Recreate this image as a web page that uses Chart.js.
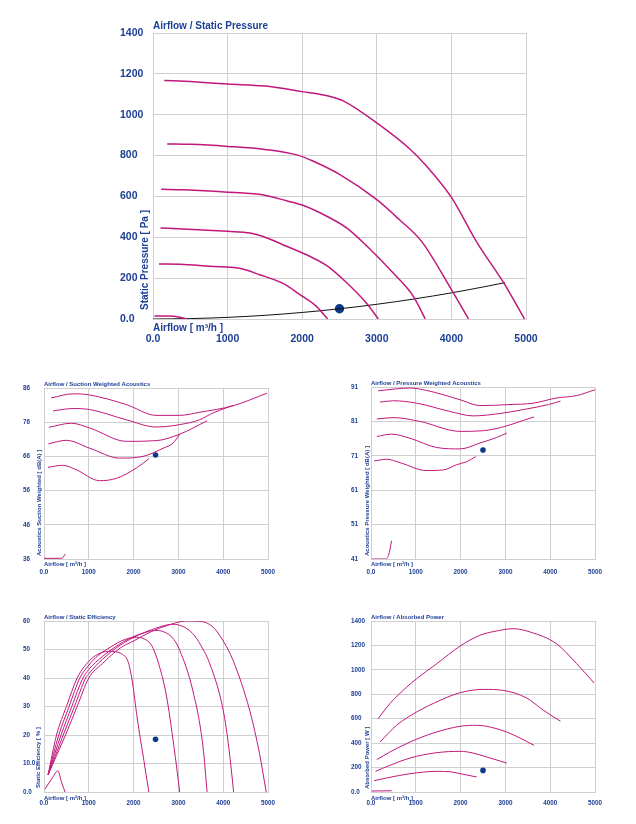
<!DOCTYPE html>
<html>
<head>
<meta charset="utf-8">
<title>Fan performance curves</title>
<script src="https://cdn.jsdelivr.net/npm/chart.js@4.4.0/dist/chart.umd.min.js"></script>
<style>
  body { margin: 0; background: #fff; }
  #page { position: relative; width: 636px; height: 824px; overflow: hidden; }
  canvas { position: absolute; }
</style>
</head>
<body>
<div id="page">
  <canvas id="pressureChart" width="636" height="360" style="left:0;top:0"></canvas>
  <canvas id="suctionChart" width="318" height="210" style="left:0;top:370px"></canvas>
  <canvas id="pressAcChart" width="318" height="210" style="left:318px;top:370px"></canvas>
  <canvas id="effChart" width="318" height="224" style="left:0;top:600px"></canvas>
  <canvas id="powerChart" width="318" height="224" style="left:318px;top:600px"></canvas>
</div>
<script>
// x axis ticks shared by every chart (airflow m³/h)
const airflowTicks = [0, 1000, 2000, 3000, 4000, 5000];

// Airflow / Static Pressure  [airflow, Pa]
const staticP1 = [[150,1168],[500,1162],[1000,1150],[1500,1140],[2000,1113],[2350,1092],[2550,1068],[3000,960],[3450,830],[3650,755],[4000,595],[4350,370],[4700,178],[4980,0]];
const staticP2 = [[190,857],[500,855],[1000,845],[1500,830],[1950,801],[2150,772],[2500,708],[3000,584],[3300,487],[3600,380],[4000,144],[4230,0]];
const staticP3 = [[110,635],[400,633],[950,622],[1450,609],[1800,578],[2000,558],[2330,503],[2600,445],[2870,356],[3220,225],[3490,111],[3650,0]];
const staticP4 = [[100,445],[400,441],[1000,429],[1300,421],[1520,398],[1790,356],[2100,307],[2330,261],[2600,176],[2860,78],[3020,0]];
const staticP5 = [[80,269],[360,268],[760,258],[1160,248],[1430,217],[1750,173],[1970,119],[2190,62],[2340,0]];
const staticP6 = [[20,15],[220,15],[360,9],[460,0]];
const systemCurve = [[0,0],[500,2],[1000,8],[1500,18],[2000,32],[2500,50],[3000,72],[3500,98],[4000,128],[4500,162],[4720,178]];
const staticPoint = [2500, 50];
const staticTicks = [0, 200, 400, 600, 800, 1000, 1200, 1400];

// Airflow / Suction Weighted Acoustics  [airflow, dB(A)]
const suction1 = [[160,83.1],[650,84.3],[1000,84.0],[1850,81.1],[2500,78.0],[3030,78.0],[3470,78.9],[4220,80.8],[4980,84.5]];
const suction2 = [[200,79.3],[650,80.0],[1020,79.7],[1840,76.7],[2500,74.6],[3030,75.3],[3470,76.7],[3770,78.7],[4220,80.9]];
const suction3 = [[110,74.5],[610,75.7],[1020,74.3],[1840,70.4],[2500,70.6],[3030,72.5],[3640,76.4]];
const suction4 = [[100,69.7],[500,70.7],[1020,68.4],[1690,65.5],[2210,66.0],[2660,68.4],[2880,69.9],[3030,72.5]];
const suction5 = [[90,62.8],[420,63.4],[720,62.1],[1240,58.9],[1620,59.6],[2060,62.6],[2340,65.3]];
const suction6 = [[0,36.2],[390,36.2],[480,37.5]];
const suctionPoint = [2490, 66.4];
const suctionTicks = [36, 46, 56, 66, 76, 86];

// Airflow / Pressure Weighted Acoustics  [airflow, dB(A)]
const pressAc1 = [[160,89.9],[870,90.7],[1240,90.0],[1990,87.3],[2430,85.6],[3100,85.9],[3620,86.3],[4140,87.8],[4590,88.5],[5000,90.2]];
const pressAc2 = [[200,86.6],[500,87.0],[1020,86.3],[1760,83.9],[2280,82.6],[2880,83.3],[3470,84.6],[3960,85.9],[4230,86.9]];
const pressAc3 = [[130,81.7],[500,82.1],[1090,81.0],[1990,78.1],[2510,78.3],[3030,79.7],[3400,81.3],[3640,82.3]];
const pressAc4 = [[130,76.6],[460,77.3],[870,76.1],[1470,73.4],[1990,73.0],[2430,74.7],[2800,76.3],[3030,77.6]];
const pressAc5 = [[70,69.5],[350,70.0],[650,69.0],[1240,66.7],[1620,66.9],[1910,68.4],[2140,69.3],[2340,70.8]];
const pressAc6 = [[15,41],[310,41],[390,42],[460,46.3]];
const pressAcPoint = [2500, 72.7];
const pressAcTicks = [41, 51, 61, 71, 81, 91];

// Airflow / Static Efficiency  [airflow, %]
const eff1 = [[90,6],[280,20],[500,30],[740,40],[900,44],[1100,47.3],[1300,49],[1450,49.4],[1600,49.2],[1750,48.3],[1870,46],[1970,39],[2080,26],[2230,11],[2340,0]];
const eff2 = [[90,6],[330,20],[560,30],[800,40],[1000,44.5],[1200,47.8],[1500,51],[1800,53.5],[2060,54.3],[2250,53.6],[2400,51.5],[2550,45.5],[2730,34],[2900,16],[3030,0]];
const eff3 = [[90,6],[380,20],[620,30],[870,40],[1000,43],[1300,47.5],[1600,51],[1900,53.8],[2200,55.7],[2500,56.7],[2730,55.8],[2900,53.5],[3030,49.7],[3320,35.7],[3550,15.8],[3640,0]];
const eff4 = [[90,6],[430,20],[680,30],[930,40],[1000,41.5],[1300,46.5],[1700,51.5],[2100,55],[2500,57.5],[2850,58.8],[3030,58.5],[3320,55.6],[3500,51.5],[3700,45],[4000,28.7],[4130,15],[4233,0]];
const eff5 = [[90,6],[480,20],[740,30],[1000,40],[1300,45],[1700,50.5],[2000,53],[2400,56.3],[2800,58.7],[3180,60],[3470,59.9],[3770,57.9],[4000,53],[4220,46.2],[4590,28.7],[4810,13.5],[4960,0]];
const eff6 = [[20,1],[170,4.5],[310,7.4],[390,3.5],[470,0]];
const effPoint = [2490, 18.5];
const effTicks = [0, 10, 20, 30, 40, 50, 60];

// Airflow / Absorbed Power  [airflow, W]
const power1 = [[160,600],[420,723],[800,860],[1020,928],[1470,1051],[1990,1195],[2430,1283],[2800,1318],[3180,1337],[3550,1310],[4140,1214],[4590,1051],[4980,892]];
const power2 = [[200,409],[570,546],[1020,655],[1540,750],[1990,813],[2510,840],[2950,832],[3470,770],[3850,669],[4230,579]];
const power3 = [[130,265],[420,327],[870,409],[1390,483],[1990,538],[2360,546],[2660,532],[3030,491],[3400,428],[3640,382]];
const power4 = [[100,169],[420,218],[870,278],[1470,322],[1990,333],[2280,319],[2580,287],[3030,237]];
const power5 = [[70,93],[350,115],[870,150],[1470,169],[1760,166],[1990,150],[2360,123]];
const power6 = [[15,8],[460,10]];
const powerPoint = [2500, 177];
const powerTicks = [0, 200, 400, 600, 800, 1000, 1200, 1400];

const CURVE = '#c0187c';
const DOT = '#0b3a8c';
const TEXT = '#1c3f94';
const GRID = '#cfcfcf';
const FONT = '"Liberation Sans", Arial, sans-serif';

// titles / axis names are drawn next to the plot area like the original
const textPlugin = {
  id: 'chartText',
  afterDraw(chart, args, o) {
    const ctx = chart.ctx;
    const a = chart.chartArea;
    ctx.save();
    ctx.fillStyle = TEXT;
    ctx.font = 'bold ' + o.size + 'px ' + FONT;
    ctx.textAlign = 'left';
    ctx.textBaseline = 'alphabetic';
    ctx.fillText(o.title, a.left, a.top - o.titleGap);
    ctx.textBaseline = 'middle';
    ctx.fillText('Airflow [ m³/h ]', a.left, a.bottom + o.xGap);
    ctx.translate(a.left - o.yGap, a.bottom - o.yStart);
    ctx.rotate(-Math.PI / 2);
    ctx.fillText(o.yTitle, 0, 0);
    ctx.restore();
  }
};

function toXY(curve) {
  return curve.map(p => ({ x: p[0], y: p[1] }));
}

function fmtTick(v) {
  if (v === 0) return '0.0';
  return String(v);
}

function makeChart(id, o) {
  const datasets = o.curves.map(c => ({
    data: toXY(c),
    showLine: true,
    borderColor: CURVE,
    borderWidth: o.lineWidth,
    pointRadius: 0,
    cubicInterpolationMode: 'monotone',
    fill: false
  }));
  if (o.system) {
    datasets.push({
      data: toXY(o.system),
      showLine: true,
      borderColor: '#111',
      borderWidth: 1,
      pointRadius: 0,
      cubicInterpolationMode: 'monotone'
    });
  }
  datasets.push({
    data: toXY([o.point]),
    showLine: false,
    pointRadius: o.dot,
    pointBackgroundColor: DOT,
    pointBorderColor: DOT,
    pointBorderWidth: 0
  });

  const tickFont = { family: FONT, size: o.tickSize, weight: 'bold' };

  return new Chart(document.getElementById(id), {
    type: 'scatter',
    data: { datasets: datasets },
    options: {
      responsive: false,
      animation: false,
      layout: { padding: { left: o.padLeft, right: o.padRight, top: o.padTop, bottom: 0 } },
      plugins: {
        legend: { display: false },
        tooltip: { enabled: false },
        chartText: o.text
      },
      scales: {
        x: {
          type: 'linear',
          min: airflowTicks[0],
          max: airflowTicks[airflowTicks.length - 1],
          afterBuildTicks: s => { s.ticks = airflowTicks.map(v => ({ value: v })); },
          afterFit: s => { s.height = o.xHeight; },
          ticks: { padding: o.xTickPad, font: tickFont, color: TEXT, maxRotation: 0, autoSkip: false, callback: fmtTick },
          grid: { color: GRID, drawTicks: false },
          border: { color: GRID }
        },
        y: {
          type: 'linear',
          min: o.yTicks[0],
          max: o.yTicks[o.yTicks.length - 1],
          afterBuildTicks: s => { s.ticks = o.yTicks.map(v => ({ value: v })); },
          afterFit: s => { s.width = o.yWidth; },
          ticks: { crossAlign: 'far', font: tickFont, color: TEXT, autoSkip: false, callback: o.yFmt || fmtTick },
          grid: { color: GRID, drawTicks: false },
          border: { color: GRID }
        }
      }
    },
    plugins: [textPlugin]
  });
}

// big chart on top
makeChart('pressureChart', {
  curves: [staticP1, staticP2, staticP3, staticP4, staticP5, staticP6],
  system: systemCurve,
  point: staticPoint,
  yTicks: staticTicks,
  lineWidth: 1.5, dot: 4.7, tickSize: 10.5,
  padLeft: 120, yWidth: 33, padRight: 110, padTop: 33, xHeight: 41, xTickPad: 14,
  text: { title: 'Airflow / Static Pressure', yTitle: 'Static Pressure [ Pa ]', size: 10, titleGap: 4, xGap: 9, yGap: 8, yStart: 9 }
});

// the four small ones
const small = { lineWidth: 1, dot: 2.8, tickSize: 6.3 };

makeChart('suctionChart', Object.assign({}, small, {
  curves: [suction1, suction2, suction3, suction4, suction5, suction6],
  point: suctionPoint,
  yTicks: suctionTicks,
  padLeft: 23, yWidth: 21, padRight: 50, padTop: 18, xHeight: 21, xTickPad: 9,
  text: { title: 'Airflow / Suction Weighted Acoustics', yTitle: 'Acoustics Suction Weighted [ dB(A) ]', size: 6, titleGap: 2, xGap: 5, yGap: 4.5, yStart: 3 }
}));

makeChart('pressAcChart', Object.assign({}, small, {
  curves: [pressAc1, pressAc2, pressAc3, pressAc4, pressAc5, pressAc6],
  point: pressAcPoint,
  yTicks: pressAcTicks,
  padLeft: 33, yWidth: 20, padRight: 41, padTop: 17, xHeight: 21, xTickPad: 9,
  text: { title: 'Airflow / Pressure Weighted Acoustics', yTitle: 'Acoustics Pressure Weighted [ dB(A) ]', size: 6, titleGap: 2, xGap: 5, yGap: 4, yStart: 3 }
}));

makeChart('effChart', Object.assign({}, small, {
  curves: [eff1, eff2, eff3, eff4, eff5, eff6],
  point: effPoint,
  yTicks: effTicks,
  yFmt: v => (v === 0 ? '0.0' : v === 10 ? '10.0' : String(v)),
  padLeft: 23, yWidth: 21, padRight: 50, padTop: 21, xHeight: 32, xTickPad: 7,
  text: { title: 'Airflow / Static Efficiency', yTitle: 'Static Efficiency [ % ]', size: 6, titleGap: 2, xGap: 6, yGap: 6, yStart: 4 }
}));

makeChart('powerChart', Object.assign({}, small, {
  curves: [power1, power2, power3, power4, power5, power6],
  point: powerPoint,
  yTicks: powerTicks,
  padLeft: 33, yWidth: 20, padRight: 41, padTop: 21, xHeight: 32, xTickPad: 7,
  text: { title: 'Airflow / Absorbed Power', yTitle: 'Absorbed Power [ W ]', size: 6, titleGap: 2, xGap: 6, yGap: 3.5, yStart: 3 }
}));
</script>
</body>
</html>
